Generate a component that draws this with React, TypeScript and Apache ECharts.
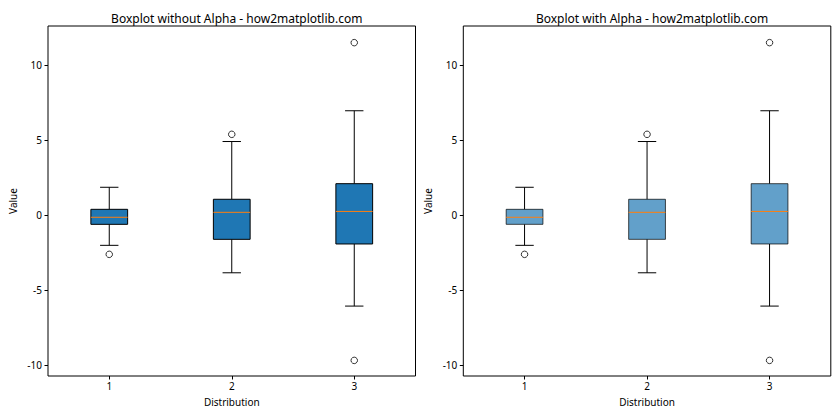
import React, { useEffect, useRef } from "react";
import * as echarts from "echarts";

const categories = ["1", "2", "3"];
const whiskerLow = [-2.02, -3.85, -6.07];
const q1 = [-0.62, -1.62, -1.93];
const median = [-0.15, 0.18, 0.24];
const q3 = [0.38, 1.05, 2.09];
const whiskerHigh = [1.85, 4.9, 6.95];
const outliers: [number, number][] = [
  [0, -2.62],
  [1, 5.38],
  [2, 11.49],
  [2, -9.69],
];
const yTicks = [-10, -5, 0, 5, 10];
const titles = [
  "Boxplot without Alpha - how2matplotlib.com",
  "Boxplot with Alpha - how2matplotlib.com",
];
const FONT = "Noto Sans";

export default function App() {
  const ref = useRef<HTMLDivElement>(null);
  useEffect(() => {
    if (!ref.current) return;
    const chart = echarts.init(ref.current, undefined, { renderer: "svg" });
    const boxData = categories.map((_, i) => [
      i,
      whiskerLow[i],
      q1[i],
      median[i],
      q3[i],
      whiskerHigh[i],
    ]);
    const grids = [
      { left: 48, top: 26, width: 367.5, height: 350 },
      { left: 463.3, top: 26, width: 367.5, height: 350 },
    ];
    const makeRender = (alpha: boolean) => (params: any, api: any) => {
      const idx = api.value(0);
      const pLo = api.coord([idx, api.value(1)]);
      const pQ1 = api.coord([idx, api.value(2)]);
      const pMed = api.coord([idx, api.value(3)]);
      const pQ3 = api.coord([idx, api.value(4)]);
      const pHi = api.coord([idx, api.value(5)]);
      const band = api.size([1, 0])[0];
      const w = band * 0.3;
      const cap = band * 0.15;
      const cx = pMed[0];
      const black = "#000";
      return {
        type: "group",
        children: [
          { type: "line", shape: { x1: cx, y1: pQ1[1], x2: cx, y2: pLo[1] }, style: { stroke: black, lineWidth: 1 } },
          { type: "line", shape: { x1: cx, y1: pQ3[1], x2: cx, y2: pHi[1] }, style: { stroke: black, lineWidth: 1 } },
          { type: "line", shape: { x1: cx - cap / 2, y1: pLo[1], x2: cx + cap / 2, y2: pLo[1] }, style: { stroke: black, lineWidth: 1 } },
          { type: "line", shape: { x1: cx - cap / 2, y1: pHi[1], x2: cx + cap / 2, y2: pHi[1] }, style: { stroke: black, lineWidth: 1 } },
          {
            type: "rect",
            shape: { x: cx - w / 2, y: pQ3[1], width: w, height: pQ1[1] - pQ3[1] },
            style: {
              fill: alpha ? "rgba(31,119,180,0.7)" : "#1f77b4",
              stroke: alpha ? "rgba(0,0,0,0.7)" : "#000",
              lineWidth: 1,
            },
          },
          { type: "line", shape: { x1: cx - w / 2, y1: pMed[1], x2: cx + w / 2, y2: pMed[1] }, style: { stroke: "#ff7f0e", lineWidth: 1 } },
        ],
      };
    };
    const option: any = {
      animation: false,
      title: titles.map((t, i) => ({
        text: t,
        left: grids[i].left + grids[i].width / 2,
        textAlign: "center",
        top: 7,
        textStyle: { fontFamily: FONT, fontSize: 12, fontWeight: "normal", color: "#000" },
      })),
      grid: grids.map((g) => ({ ...g, show: true, borderColor: "#000", borderWidth: 1, backgroundColor: "transparent" })),
      xAxis: [0, 1].map((i) => ({
        type: "category",
        gridIndex: i,
        position: "bottom",
        data: categories,
        boundaryGap: true,
        axisLine: { show: false, onZero: false },
        axisTick: { show: true, alignWithLabel: true, length: 3.5, lineStyle: { color: "#000" } },
        axisLabel: { fontFamily: FONT, fontSize: 10, color: "#000", margin: 5 },
        splitLine: { show: false },
        name: "Distribution",
        nameLocation: "middle",
        nameGap: 21,
        nameTextStyle: { fontFamily: FONT, fontSize: 10, color: "#000" },
      })),
      yAxis: [0, 1].map((i) => ({
        type: "value",
        gridIndex: i,
        position: "left",
        min: -10.73,
        max: 12.6,
        axisLine: { show: false, onZero: false },
        axisTick: { show: true, length: 3.5, lineStyle: { color: "#000" }, customValues: yTicks },
        axisLabel: { fontFamily: FONT, fontSize: 10, color: "#000", margin: 6, customValues: yTicks },
        splitLine: { show: false },
        name: "Value",
        nameLocation: "middle",
        nameRotate: 90,
        nameGap: 30,
        nameTextStyle: { fontFamily: FONT, fontSize: 10, color: "#000" },
      })),
      series: [0, 1].flatMap((i) => [
        {
          type: "custom",
          xAxisIndex: i,
          yAxisIndex: i,
          data: boxData,
          encode: { x: 0, y: [1, 2, 3, 4, 5] },
          renderItem: makeRender(i === 1),
          silent: true,
        },
        {
          type: "scatter",
          xAxisIndex: i,
          yAxisIndex: i,
          data: outliers,
          symbol: "circle",
          symbolSize: 6.5,
          itemStyle: { color: "none", borderColor: "#000", borderWidth: 1 },
          silent: true,
        },
      ]),
    };
    chart.setOption(option);
    return () => chart.dispose();
  }, []);
  return (
    <div
      ref={ref}
      style={{ position: "fixed", left: 0, top: 0, width: 840, height: 420, background: "#fff" }}
    />
  );
}
